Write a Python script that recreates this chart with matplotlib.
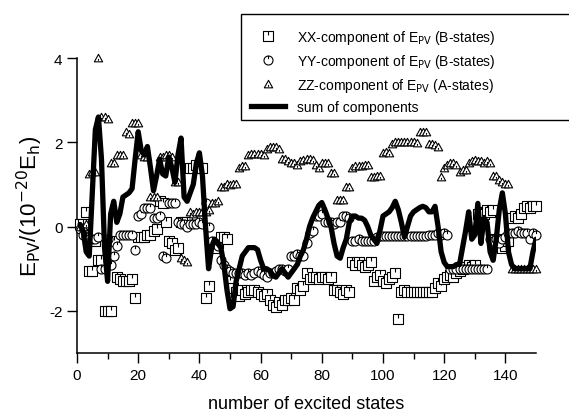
import numpy as np
import matplotlib
matplotlib.use("Agg")
import matplotlib.pyplot as plt
from matplotlib.path import Path
from matplotlib.lines import Line2D
from matplotlib.patches import Rectangle

plt.rcParams['font.family'] = ['Liberation Sans', 'DejaVu Sans']
plt.rcParams['axes.unicode_minus'] = False

# excited states 1..150
states = np.arange(1, 151)

# XX component (B-states)
xx = [0.05, 0.05, 0.35, -1.05, -1.05, -0.35, -0.8, -0.8, -2.0, -2.0,
      -2.0, -0.35, -1.2, -1.25, -1.3, -1.3, -1.3, -1.25, -1.7, -0.25,
      -0.25, -0.25, -0.2, -0.2, -0.1, -0.05, 0.6, 0.57, 0.1, -0.35,
      -0.4, -0.55, -0.5, 0.1, 0.1, 0.1, 1.4, 1.4, 1.45, 1.4,
      1.4, -1.7, -1.4, -0.45, -0.5, -0.4, -0.25, -0.25, -0.3, -1.3,
      -1.45, -1.55, -1.65, -1.5, -1.6, -1.55, -1.5, -1.5, -1.55, -1.6,
      -1.65, -1.6, -1.75, -1.85, -1.9, -1.8, -1.85, -1.75, -1.75, -1.7,
      -1.75, -1.45, -1.5, -1.4, -1.1, -1.25, -1.2, -1.2, -1.25, -1.2,
      -1.2, -1.25, -1.2, -1.5, -1.5, -1.55, -1.6, -1.5, -1.55, -0.85,
      -0.9, -0.85, -0.9, -0.95, -0.9, -0.85, -1.3, -1.2, -1.15, -1.3,
      -1.35, -1.25, -1.2, -1.1, -2.2, -1.55, -1.5, -1.55, -1.55, -1.55,
      -1.55, -1.55, -1.55, -1.55, -1.55, -1.55, -1.45, -1.35, -1.4, -1.25,
      -1.2, -1.15, -1.2, -1.1, -1.05, -1.0, -0.95, -0.9, -0.95, -0.9,
      0.3, 0.35, 0.3, 0.4, 0.35, 0.4, -0.3, -0.4, -0.5, -0.45,
      -0.35, 0.2, 0.25, 0.2, 0.3, 0.45, 0.5, 0.45, 0.5, 0.5]

# YY component (B-states)
yy = [-0.05, -0.2, -0.25, -0.3, -0.3, -0.3, -0.25, -1.0, -1.0, -0.3,
      -0.9, -0.7, -0.45, -0.2, -0.2, -0.2, -0.2, -0.2, -0.55, 0.25,
      0.3, 0.45, 0.45, 0.45, 0.2, 0.2, 0.25, -0.7, -0.75, 0.55,
      0.57, 0.57, 0.1, 0.05, 0.05, 0.0, 0.05, 0.05, 0.05, 0.1,
      0.05, 0.57, 0.0, -0.35, -0.4, -0.45, -0.8, -0.9, -1.0, -1.05,
      -1.1, -1.1, -1.1, -1.1, -1.15, -1.1, -1.15, -1.1, -1.05, -1.1,
      -1.15, -1.2, -1.1, -1.1, -1.05, -1.0, -1.0, -1.05, -1.0, -0.7,
      -0.7, -0.65, -0.7, -0.7, -0.4, -0.15, -0.1, 0.25, 0.25, 0.3,
      0.1, 0.1, 0.1, 0.05, 0.1, 0.1, 0.25, 0.25, 0.2, -0.35,
      -0.35, -0.3, -0.35, -0.35, -0.35, -0.35, -0.35, -0.25, -0.22, -0.22,
      -0.22, -0.22, -0.22, -0.22, -0.22, -0.22, -0.22, -0.22, -0.22, -0.22,
      -0.22, -0.22, -0.22, -0.22, -0.2, -0.2, -0.2, -0.15, -0.2, -0.15,
      -0.2, -1.0, -1.0, -1.0, -1.0, -1.0, -1.0, -1.0, -1.0, -1.0,
      -1.0, -1.0, -1.0, -1.0, -0.3, -0.35, -0.3, -0.4, -0.3, -0.25,
      -0.15, -0.15, -0.15, -0.1, -0.15, -0.15, -0.15, -0.3, -0.15, -0.2]

# ZZ component (A-states)
zz = [0.0, 0.0, 0.05, 1.25, 1.3, 1.3, 4.0, 2.6, 2.6, 2.55,
      1.5, 1.5, 1.7, 1.7, 1.7, 2.25, 2.2, 2.45, 2.45, 2.45,
      1.7, 1.65, 1.65, 0.7, 0.7, 0.7, 1.65, 1.65, 1.7, 1.7,
      1.65, 1.05, 1.05, -0.75, -0.8, -0.85, 0.35, 0.3, 0.35, 0.35,
      0.35, 0.35, 0.4, 0.55, 0.55, 0.6, 0.95, 0.95, 1.0, 0.98,
      1.0, 1.0, 1.4, 1.43, 1.43, 1.7, 1.72, 1.72, 1.72, 1.72,
      1.7, 1.85, 1.88, 1.88, 1.88, 1.85, 1.6, 1.6, 1.55, 1.5,
      1.5, 1.45, 1.55, 1.58, 1.6, 1.6, 1.57, 1.45, 1.4, 1.5,
      1.52, 1.5, 1.28, 1.28, 0.62, 0.62, 0.62, 0.95, 0.95, 1.4,
      1.43, 1.43, 1.43, 1.45, 1.45, 1.17, 1.17, 1.2, 1.2, 1.75,
      1.76, 1.75, 1.95, 2.0, 2.0, 2.0, 2.0, 2.0, 2.0, 2.0,
      1.98, 2.24, 2.24, 2.24, 1.95, 1.95, 1.93, 1.9, 1.17, 1.4,
      1.45, 1.5, 1.52, 1.45, 1.3, 1.35, 1.35, 1.5, 1.55, 1.57,
      1.55, 1.55, 1.5, 1.55, 1.5, 1.2, 1.2, 1.1, 1.05, 1.0,
      1.0, -1.0, -1.0, -1.0, -1.0, -1.0, -1.0, -1.0, -1.0, -1.0]

# sum of components
total = [0.05, -0.1, -0.6, -0.7, 0.8, 2.3, 2.6, 1.6, -0.5, -1.3,
         0.3, 0.6, 0.1, 0.3, 0.7, 0.75, 0.8, 0.9, 1.6, 2.25,
         1.8, 1.7, 1.9, 1.4, 0.85, 1.2, 1.6, 1.25, 1.2, 1.65,
         1.4, 1.05, 1.7, 2.1, 0.7, 0.6, 0.8, 1.0, 1.5, 1.75,
         1.2, 0.0, -1.0, -0.5, -0.3, -0.4, -0.5, -0.9, -1.5, -1.95,
         -1.9, -1.3, -1.0, -0.7, -0.6, -0.5, -0.5, -0.5, -0.55, -0.8,
         -1.0, -1.0, -1.05, -1.15, -1.2, -1.1, -1.0, -1.1, -1.2, -1.1,
         -1.0, -0.9, -0.7, -0.55, -0.3, 0.0, 0.2, 0.35, 0.5, 0.57,
         0.4, 0.2, 0.0, -0.4, -0.7, -0.75, -0.5, -0.3, 0.1, 0.25,
         0.25, 0.2, 0.2, 0.15, 0.0, -0.2, -0.3, -0.4, -0.1, 0.25,
         0.3, 0.35, 0.45, 0.6, 0.4, 0.1, -0.25, 0.0, 0.25, 0.35,
         0.4, 0.45, 0.48, 0.45, 0.35, 0.35, 0.48, 0.0, -0.6, -0.85,
         -0.95, -0.95, -0.95, -0.9, -0.9, -0.5, -0.1, 0.35, -0.3, -0.2,
         0.55, -0.4, 0.2, 0.1, -0.6, -0.8, -0.3, 0.4, 0.8, 0.3,
         -0.6, -0.9, -1.0, -1.0, -1.0, -1.0, -1.0, -1.0, -0.6, -0.3]

labels = ['XX-component of E$_{\\rm PV}$ (B-states)',
          'YY-component of E$_{\\rm PV}$ (B-states)',
          'ZZ-component of E$_{\\rm PV}$ (A-states)',
          'sum of components']

# open symbols with a small stroke inside
tick = Path([(0, 1), (0, 0.3)], [Path.MOVETO, Path.LINETO])
sq = Path.make_compound_path(
    Path([(-1, -1), (1, -1), (1, 1), (-1, 1), (-1, -1)],
         [Path.MOVETO, Path.LINETO, Path.LINETO, Path.LINETO, Path.CLOSEPOLY]), tick)
circ = Path.make_compound_path(Path.unit_circle(), tick)
tri = Path.make_compound_path(
    Path([(-1, -0.8), (1, -0.8), (0, 1), (-1, -0.8)],
         [Path.MOVETO, Path.LINETO, Path.LINETO, Path.CLOSEPOLY]),
    Path([(0, -0.1), (0, -0.55)], [Path.MOVETO, Path.LINETO]))

mk = dict(ls='none', mfc='white', mec='black', mew=0.8, clip_on=False)

fig = plt.figure(figsize=(5.69, 4.14), dpi=100)
ax = fig.add_axes([77 / 569, 1 - 354 / 414, (536 - 77) / 569, (354 - 59) / 414])

ax.plot(states, xx, marker=sq, ms=6.5, zorder=3, **mk)
ax.plot(states, yy, marker=circ, ms=6.5, zorder=3, **mk)
ax.plot(states, zz, marker=tri, ms=6, zorder=3, **mk)
ax.plot(states, total, color='black', lw=3.8, solid_joinstyle='round',
        solid_capstyle='round', zorder=4)

ax.set_xlim(0, 150)
ax.set_ylim(-3, 4)
ax.set_xticks([0, 20, 40, 60, 80, 100, 120, 140])
ax.set_xticks(range(10, 150, 20), minor=True)
ax.set_yticks([-2, 0, 2, 4])
ax.tick_params(which='major', direction='out', length=7, width=1, labelsize=11)
ax.tick_params(which='minor', direction='out', length=4, width=1)
for s in ('top', 'right'):
    ax.spines[s].set_visible(False)
for s in ('left', 'bottom'):
    ax.spines[s].set_linewidth(1.1)

ax.set_xlabel('number of excited states', fontsize=13, labelpad=10)
ax.set_ylabel('E$_{\\rm PV}$/(10$^{-20}$E$_{\\rm h}$)', fontsize=16, labelpad=3)

# legend box runs off the right edge
fig.patches.append(Rectangle((241 / 569, 1 - 121 / 414), 0.6, 106 / 414,
                             transform=fig.transFigure, fill=True, fc='white',
                             ec='black', lw=1.0, zorder=5))
handles = [Line2D([], [], marker=sq, ms=6.5, **mk),
           Line2D([], [], marker=circ, ms=6.5, **mk),
           Line2D([], [], marker=tri, ms=6, **mk),
           Line2D([], [], color='black', lw=3.8)]
leg = fig.legend(handles, labels, loc='upper left',
                 bbox_to_anchor=(245 / 569, 1 - 23 / 414), frameon=False,
                 fontsize=10, handlelength=2.5, handletextpad=0.85,
                 labelspacing=0.45, borderaxespad=0)
leg.set_zorder(6)

fig.savefig('out.png', dpi=100)
